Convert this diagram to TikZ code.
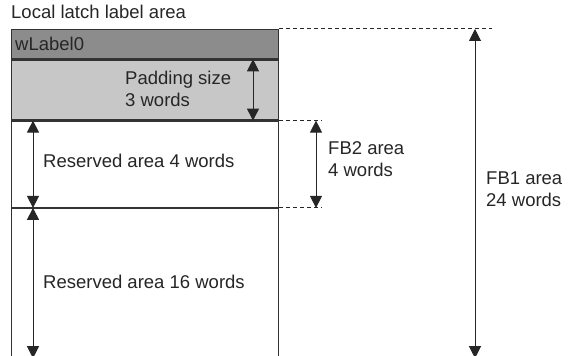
\documentclass[tikz,border=0pt]{standalone}
\usepackage{fontspec}
\setmainfont{Liberation Sans}
\usepackage{xcolor}
\usetikzlibrary{calc}
\usetikzlibrary{arrows.meta}
\usetikzlibrary{positioning}

\begin{document}
\begin{tikzpicture}[x=1pt,y=1pt]

\tikzset{
    band/.style = {
    draw=black!80,
    line width=1.3pt,
    minimum width=267pt,
    inner sep=0pt,
    anchor=north west
    },
    cote/.style = {
    {Triangle[length=12pt,width=12pt]}-{Triangle[length=12pt,width=12pt]},
    line width=1pt,
    black!85
    }
}

\tikzstyle{etiquette}=[band, fill=black!45, minimum height=29pt]
\tikzstyle{bourrage}=[band, fill=black!22, minimum height=60pt]
\tikzstyle{reserve}=[band, fill=white]
\tikzstyle{texte}=[inner sep=0pt, font=\fontsize{18.5}{22}\selectfont, align=left, text=black!85]
\tikzstyle{repere}=[dashed, dash pattern=on 4pt off 3pt, line width=1pt, black!85]

\useasboundingbox (0,0) rectangle (568,356);

\node (titre) [texte, anchor=west] at (11,344) {Local latch label area};

\node (wlabel) [etiquette] at (11,327) {};
\node (pad) [bourrage] at (wlabel.south west) {};
\node (res4) [reserve, minimum height=86pt] at (pad.south west) {};
\node (res16) [reserve, minimum height=149pt] at (res4.south west) {};

\node [texte, anchor=west] at ($(wlabel.west)+(4,0)$) {wLabel0};
\node [texte, anchor=west] at (125,267) {Padding size\\3 words};
\node [texte, anchor=west] at (43,195) {Reserved area 4 words};
\node [texte, anchor=west] at (43,74) {Reserved area 16 words};
\node [texte, anchor=west] at (328,197) {FB2 area\\4 words};
\node [texte, anchor=west] at (486,167) {FB1 area\\24 words};

\coordinate (xpad) at (253,0);
\coordinate (xres) at (33,0);
\coordinate (xfb2) at (316,0);
\coordinate (xfb1) at (475,0);
\coordinate (fin2) at (322,0);
\coordinate (fin1) at (492,0);

% lignes de repere
\draw [repere] (wlabel.north east) -- (wlabel.north east -| fin1);
\draw [repere] (res4.north east) -- (res4.north east -| fin2);
\draw [repere] (res4.south east) -- (res4.south east -| fin2);
\draw [repere] (res16.south east) -- (res16.south east -| fin1);

% cotes
\draw [cote] (pad.north -| xpad) -- (pad.south -| xpad);
\draw [cote] (res4.north -| xres) -- (res4.south -| xres);
\draw [cote] (res16.north -| xres) -- (res16.south -| xres);
\draw [cote] (res4.north -| xfb2) -- (res4.south -| xfb2);
\draw [cote] (wlabel.north -| xfb1) -- (res16.south -| xfb1);

\end{tikzpicture}
\end{document}
